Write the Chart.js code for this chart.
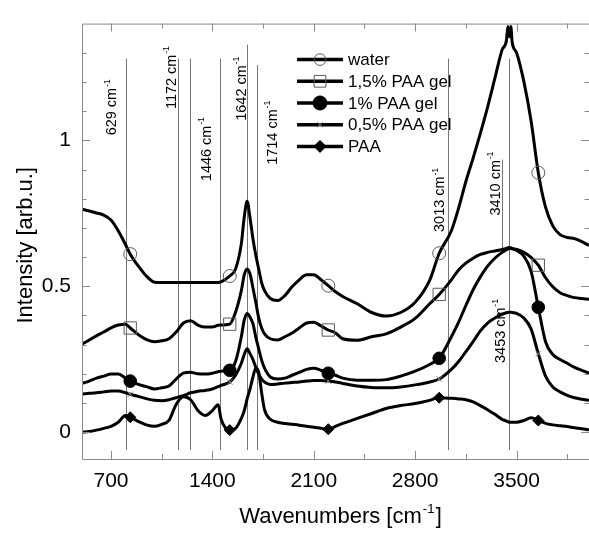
<!DOCTYPE html>
<html>
<head>
<meta charset="utf-8">
<title>Spectra</title>
<script src="https://cdn.jsdelivr.net/npm/chart.js@4.4.1/dist/chart.umd.min.js"></script>
<style>
  html, body { margin: 0; padding: 0; background: #fff; }
  #wrap { width: 589px; height: 534px; }
</style>
</head>
<body>
<div id="wrap"><canvas id="spectra" width="589" height="534"></canvas></div>
<script>
// wavenumber grid shared by all five spectra (cm-1)
const wavenumbers = [500, 550, 600, 650, 700, 750, 800, 833, 900, 950, 1000, 1050, 1100, 1150, 1200, 1250, 1300, 1350, 1400, 1440,
  1460, 1520, 1560, 1600, 1620, 1640, 1660, 1680, 1700, 1720, 1740, 1760, 1800, 1850, 1900, 1950, 2000, 2050, 2100, 2150,
  2200, 2250, 2300, 2400, 2500, 2600, 2700, 2800, 2900, 2966, 3050, 3100, 3150, 3200, 3250, 3300, 3350, 3400, 3430, 3440,
  3450, 3460, 3470, 3500, 3550, 3600, 3650, 3700, 3750, 3800, 3850, 3900, 3950, 4000];

const water = [0.764, 0.758, 0.751, 0.744, 0.727, 0.690, 0.643, 0.610, 0.562, 0.532, 0.514, 0.513, 0.513, 0.513, 0.513, 0.513, 0.513, 0.513, 0.513, 0.513,
  0.515, 0.535, 0.559, 0.646, 0.737, 0.791, 0.734, 0.663, 0.606, 0.559, 0.512, 0.485, 0.458, 0.451, 0.468, 0.498, 0.522, 0.539, 0.539, 0.522,
  0.502, 0.481, 0.465, 0.440, 0.410, 0.398, 0.410, 0.445, 0.520, 0.613, 0.690, 0.768, 0.859, 0.939, 1.024, 1.114, 1.212, 1.310, 1.342, 1.390,
  1.355, 1.390, 1.335, 1.300, 1.202, 1.067, 0.889, 0.771, 0.707, 0.677, 0.667, 0.663, 0.653, 0.640];

const paaGel15 = [0.301, 0.316, 0.330, 0.343, 0.357, 0.367, 0.370, 0.357, 0.330, 0.316, 0.310, 0.313, 0.320, 0.343, 0.374, 0.382, 0.367, 0.360, 0.360, 0.366,
  0.367, 0.370, 0.411, 0.485, 0.539, 0.559, 0.542, 0.495, 0.444, 0.391, 0.357, 0.337, 0.320, 0.316, 0.327, 0.340, 0.357, 0.374, 0.377, 0.364,
  0.350, 0.340, 0.320, 0.315, 0.327, 0.337, 0.360, 0.390, 0.440, 0.472, 0.522, 0.556, 0.579, 0.596, 0.609, 0.616, 0.621, 0.626, 0.630, 0.632,
  0.633, 0.632, 0.630, 0.626, 0.616, 0.599, 0.572, 0.529, 0.498, 0.478, 0.468, 0.461, 0.458, 0.455];

const paaGel1 = [0.167, 0.175, 0.185, 0.192, 0.199, 0.199, 0.185, 0.175, 0.162, 0.155, 0.148, 0.152, 0.158, 0.182, 0.202, 0.205, 0.200, 0.199, 0.202, 0.207,
  0.209, 0.212, 0.242, 0.327, 0.384, 0.407, 0.394, 0.372, 0.325, 0.285, 0.247, 0.219, 0.189, 0.182, 0.185, 0.195, 0.205, 0.215, 0.219, 0.212,
  0.202, 0.195, 0.185, 0.178, 0.178, 0.180, 0.192, 0.209, 0.232, 0.253, 0.327, 0.377, 0.434, 0.488, 0.532, 0.569, 0.596, 0.616, 0.625, 0.628,
  0.630, 0.629, 0.628, 0.623, 0.603, 0.552, 0.428, 0.310, 0.266, 0.249, 0.236, 0.222, 0.212, 0.202];

const paaGel05 = [0.131, 0.133, 0.135, 0.138, 0.141, 0.141, 0.135, 0.130, 0.121, 0.114, 0.109, 0.108, 0.111, 0.118, 0.125, 0.135, 0.140, 0.143, 0.148, 0.156,
  0.160, 0.172, 0.195, 0.236, 0.266, 0.286, 0.269, 0.249, 0.222, 0.199, 0.182, 0.172, 0.163, 0.165, 0.168, 0.170, 0.172, 0.175, 0.177, 0.177,
  0.175, 0.172, 0.167, 0.158, 0.153, 0.152, 0.155, 0.162, 0.172, 0.182, 0.215, 0.242, 0.276, 0.310, 0.347, 0.374, 0.391, 0.404, 0.409, 0.410,
  0.411, 0.411, 0.410, 0.407, 0.391, 0.354, 0.269, 0.192, 0.155, 0.138, 0.126, 0.118, 0.113, 0.109];

const paa = [0.000, 0.002, 0.007, 0.013, 0.020, 0.034, 0.057, 0.051, 0.034, 0.024, 0.020, 0.027, 0.040, 0.095, 0.121, 0.111, 0.074, 0.057, 0.074, 0.094,
  0.045, 0.007, 0.013, 0.047, 0.074, 0.114, 0.148, 0.189, 0.219, 0.205, 0.135, 0.077, 0.044, 0.034, 0.030, 0.027, 0.024, 0.020, 0.017, 0.013,
  0.010, 0.020, 0.030, 0.047, 0.064, 0.081, 0.091, 0.098, 0.109, 0.118, 0.116, 0.114, 0.111, 0.104, 0.091, 0.077, 0.061, 0.044, 0.038, 0.036,
  0.034, 0.034, 0.034, 0.034, 0.040, 0.049, 0.040, 0.030, 0.025, 0.022, 0.019, 0.015, 0.012, 0.008];

// wavenumbers that carry a symbol on every curve
const markerAt = [833, 1520, 2200, 2966, 3650];

// axis ticks
const xMajor = [700, 1400, 2100, 2800, 3500];
const xMinor = [1050, 1750, 2450, 3150, 3850];
const yMajor = [0, 0.5, 1];
const yMinor = [0.1, 0.2, 0.3, 0.4, 0.6, 0.7, 0.8, 0.9, 1.1, 1.2, 1.3];

// band markers: thin vertical lines (cm-1) and their top / bottom (intensity)
const bandLineAt = [806, 1165, 1248, 1450, 1636, 1705, 3030, 3400, 3450];
const bandLineTop = [1.28, 1.28, 1.28, 1.28, 1.328, 1.258, 1.28, 0.934, 1.28];
const bandLineBottom = [-0.061, -0.061, -0.061, -0.061, -0.061, -0.061, -0.061, 0.63, -0.061];

// band labels, written upwards; anchored at baseline x (cm-1) and start y (intensity)
const bandLabel = ['629', '1172', '1446', '1642', '1714', '3013', '3410', '3453'];
const bandLabelAt = [737, 1147, 1389, 1631, 1845, 3001, 3384, 3418];
const bandLabelFrom = [1.017, 1.107, 0.860, 1.067, 0.916, 0.686, 0.742, 0.237];

const FONT = '"Liberation Sans", Arial, Helvetica, sans-serif';

function series(vals) {
    return wavenumbers.map((w, i) => ({ x: w, y: vals[i] }));
}
function markerRadius(r) {
    return c => markerAt.includes(wavenumbers[c.dataIndex]) ? r : 0;
}

// text with a superscript part, e.g. "cm" + "-1"
function textWithSup(ctx, base, sup, tail, x, y, size) {
    ctx.font = size + 'px ' + FONT;
    ctx.fillText(base, x, y);
    let w = ctx.measureText(base).width;
    const s = size * 0.6;
    ctx.font = s + 'px ' + FONT;
    ctx.fillText(sup, x + w + size * 0.05, y - size * 0.45);
    w += ctx.measureText(sup).width + size * 0.1;
    if (tail) {
        ctx.font = size + 'px ' + FONT;
        ctx.fillText(tail, x + w, y);
    }
}
function widthWithSup(ctx, base, sup, tail, size) {
    ctx.font = size + 'px ' + FONT;
    let w = ctx.measureText(base + tail).width;
    ctx.font = (size * 0.6) + 'px ' + FONT;
    return w + ctx.measureText(sup).width + size * 0.1;
}

// legend symbol, same shapes as chart.js point styles
function drawMarker(ctx, style, x, y, r, fill, stroke, lw) {
    ctx.save();
    ctx.beginPath();
    ctx.lineWidth = lw;
    ctx.strokeStyle = stroke;
    ctx.fillStyle = fill;
    if (style === 'circle') {
        ctx.arc(x, y, r, 0, Math.PI * 2);
    } else if (style === 'rect') {
        const h = r * Math.SQRT1_2;
        ctx.rect(x - h, y - h, 2 * h, 2 * h);
    } else if (style === 'rectRot') {
        ctx.moveTo(x - r, y); ctx.lineTo(x, y - r); ctx.lineTo(x + r, y); ctx.lineTo(x, y + r);
        ctx.closePath();
    } else if (style === 'crossRot') {
        const h = r * Math.SQRT1_2;
        ctx.moveTo(x - h, y - h); ctx.lineTo(x + h, y + h);
        ctx.moveTo(x + h, y - h); ctx.lineTo(x - h, y + h);
    }
    if (fill !== 'transparent') ctx.fill();
    ctx.stroke();
    ctx.restore();
}

const legendRows = [
    { label: 'water', style: 'circle', r: 5.8, fill: 'transparent', stroke: '#5a5a5a', lw: 1 },
    { label: '1,5% PAA gel', style: 'rect', r: 8.3, fill: 'transparent', stroke: '#5a5a5a', lw: 1 },
    { label: '1% PAA gel', style: 'circle', r: 7, fill: '#000', stroke: '#000', lw: 1 },
    { label: '0,5% PAA gel', style: 'crossRot', r: 4, fill: 'transparent', stroke: '#8a8a8a', lw: 1 },
    { label: 'PAA', style: 'rectRot', r: 6, fill: '#000', stroke: '#000', lw: 1 }
];

const decor = {
    id: 'decor',
    beforeDatasetsDraw(chart) {
        const { ctx, scales: { x, y } } = chart;
        ctx.save();
        // vertical band lines
        ctx.strokeStyle = '#767676';
        ctx.lineWidth = 1;
        bandLineAt.forEach((v, i) => {
            const px = Math.round(x.getPixelForValue(v)) + 0.5;
            ctx.beginPath();
            ctx.moveTo(px, y.getPixelForValue(bandLineTop[i]));
            ctx.lineTo(px, y.getPixelForValue(bandLineBottom[i]));
            ctx.stroke();
        });
        // band labels, rotated to read upwards
        ctx.fillStyle = '#000';
        ctx.textAlign = 'left';
        ctx.textBaseline = 'alphabetic';
        bandLabel.forEach((t, i) => {
            ctx.save();
            ctx.translate(x.getPixelForValue(bandLabelAt[i]), y.getPixelForValue(bandLabelFrom[i]));
            ctx.rotate(-Math.PI / 2);
            textWithSup(ctx, t + ' cm', '-1', '', 0, 0, 14.5);
            ctx.restore();
        });
        ctx.restore();
    },
    afterDraw(chart) {
        const { ctx, chartArea: a, scales: { x, y } } = chart;
        ctx.save();
        // frame: left, top, bottom (right edge falls on the canvas border)
        ctx.strokeStyle = '#8a8a8a';
        ctx.lineWidth = 1;
        ctx.beginPath();
        ctx.moveTo(a.right, a.top + 0.5);
        ctx.lineTo(a.left + 0.5, a.top + 0.5);
        ctx.lineTo(a.left + 0.5, a.bottom + 0.5);
        ctx.lineTo(a.right, a.bottom + 0.5);
        ctx.stroke();
        // inward ticks on all four sides
        ctx.beginPath();
        const xt = (v, len) => {
            const px = Math.round(x.getPixelForValue(v)) + 0.5;
            ctx.moveTo(px, a.bottom); ctx.lineTo(px, a.bottom - len);
            ctx.moveTo(px, a.top); ctx.lineTo(px, a.top + len);
        };
        const yt = (v, len) => {
            const py = Math.round(y.getPixelForValue(v)) + 0.5;
            ctx.moveTo(a.left, py); ctx.lineTo(a.left + len, py);
            ctx.moveTo(a.right, py); ctx.lineTo(a.right - len, py);
        };
        xMajor.forEach(v => xt(v, 8));
        xMinor.forEach(v => xt(v, 5));
        yMajor.forEach(v => yt(v, 8));
        yMinor.forEach(v => yt(v, 4.5));
        ctx.stroke();

        // axis titles
        ctx.fillStyle = '#000';
        ctx.textBaseline = 'alphabetic';
        ctx.textAlign = 'left';
        const tSize = 22;
        const tw = widthWithSup(ctx, 'Wavenumbers [cm', '-1', ']', tSize);
        textWithSup(ctx, 'Wavenumbers [cm', '-1', ']', (a.left + a.right) / 2 + 5 - tw / 2, a.bottom + 64, tSize);

        ctx.save();
        ctx.translate(31.5, (a.top + a.bottom) / 2 + 4);
        ctx.rotate(-Math.PI / 2);
        ctx.textAlign = 'center';
        ctx.font = tSize + 'px ' + FONT;
        ctx.fillText('Intensity [arb.u.]', 0, 0);
        ctx.restore();

        // legend
        const lx0 = a.left + 215, lx1 = a.left + 261, rowH = 21.7;
        legendRows.forEach((row, i) => {
            const ly = a.top + 36 + i * rowH;
            ctx.beginPath();
            ctx.strokeStyle = '#000';
            ctx.lineWidth = 3.5;
            ctx.moveTo(lx0, ly);
            ctx.lineTo(lx1, ly);
            ctx.stroke();
            drawMarker(ctx, row.style, (lx0 + lx1) / 2, ly, row.r, row.fill, row.stroke, row.lw);
            ctx.fillStyle = '#000';
            ctx.font = '17px ' + FONT;
            ctx.textAlign = 'left';
            ctx.textBaseline = 'middle';
            ctx.fillText(row.label, lx1 + 5, ly + 1);
        });
        ctx.restore();
    }
};

function lineSet(label, vals, style, r, fill, stroke, pbw) {
    return {
        label: label,
        data: series(vals),
        borderColor: '#000',
        borderWidth: 3,
        cubicInterpolationMode: 'monotone',
        pointStyle: style,
        pointRadius: markerRadius(r),
        pointHoverRadius: 0,
        pointBackgroundColor: fill,
        pointBorderColor: stroke,
        pointBorderWidth: pbw
    };
}

const chart = new Chart(document.getElementById('spectra').getContext('2d'), {
    type: 'line',
    data: {
        datasets: [
            lineSet('water', water, 'circle', 6.5, 'transparent', '#5a5a5a', 1),
            lineSet('1,5% PAA gel', paaGel15, 'rect', 8.7, 'transparent', '#5a5a5a', 1),
            lineSet('1% PAA gel', paaGel1, 'circle', 6.3, '#000', '#000', 1),
            lineSet('0,5% PAA gel', paaGel05, 'crossRot', 4, 'transparent', '#8a8a8a', 1),
            lineSet('PAA', paa, 'rectRot', 5.5, '#000', '#000', 1)
        ]
    },
    options: {
        responsive: false,
        animation: false,
        devicePixelRatio: 1,
        layout: { padding: { top: 17, right: 0, left: 0, bottom: 0 } },
        plugins: {
            legend: { display: false },
            tooltip: { enabled: false }
        },
        scales: {
            x: {
                type: 'linear',
                min: 500,
                max: 4000,
                grid: { display: false, drawTicks: false },
                border: { display: false },
                afterBuildTicks: s => { s.ticks = xMajor.map(v => ({ value: v })); },
                afterFit: s => { s.height = 75; },
                ticks: {
                    color: '#000',
                    padding: 10,
                    maxRotation: 0,
                    font: { family: FONT, size: 21 },
                    callback: v => String(v)
                }
            },
            y: {
                min: -0.092,
                max: 1.4,
                grid: { display: false, drawTicks: false },
                border: { display: false },
                afterBuildTicks: s => { s.ticks = yMajor.map(v => ({ value: v })); },
                afterFit: s => { s.width = 82; },
                ticks: {
                    color: '#000',
                    padding: 11,
                    font: { family: FONT, size: 21 },
                    callback: v => String(v)
                }
            }
        }
    },
    plugins: [decor]
});
</script>
</body>
</html>
